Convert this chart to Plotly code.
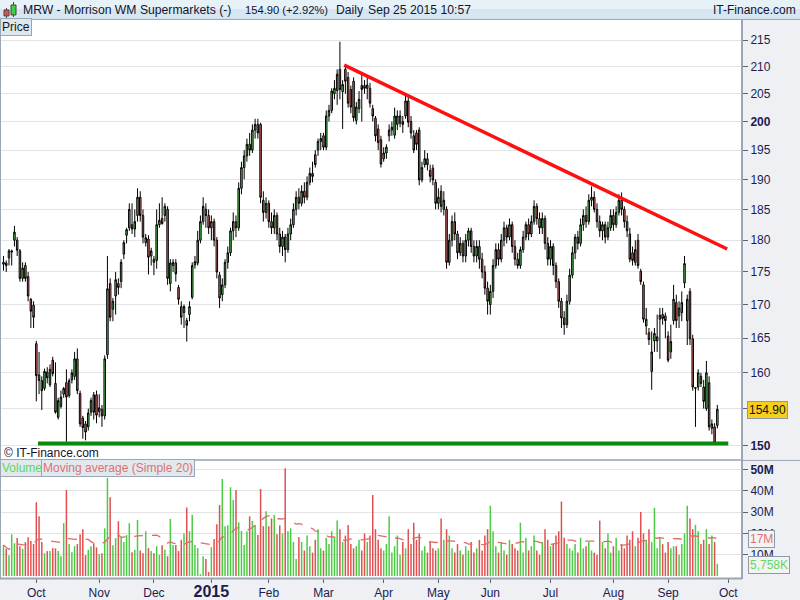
import plotly.graph_objects as go
import pandas as pd
import math

opens = [176.2,176.4,177.2,178.1,180.0,180.0,178.3,174.0,176.0,174.3,170.8,169.9,
164.2,159.7,158.9,157.8,160.1,158.3,161.8,158.5,153.8,155.3,157.0,158.6,156.8,159.0,159.5,162.0,157.1,153.7,152.9,152.5,154.5,156.9,156.9,154.6,154.9,154.0,162.6,173.2,169.3,171.3,173.2,173.5,177.8,180.8,182.0,182.5,181.8,184.0,187.0,184.0,179.6,180.2,177.5,177.0,176.8,182.5,183.5,184.0,185.0,173.2,176.0,176.4,172.6,169.7,168.8,167.6,168.5,171.1,176.1,176.4,
180,183,185,184,182,183,180,174.5,171.5,173,176.5,178,181.5,183,182,188.5,192,194,196,195,198.5,199.5,199.5,186.5,184.5,186,183,182,184,181,179,180.5,178.5,181,182.5,185,187,186,188,187,189.5,191,194.2,195,196.5,197.5,195.5,201,202,205,205.6,209.5,205.4,209.5,208,205.8,207.3,200.2,202.3,206.5,206.5,206,206,202.3,200.6,198.7,196.8,193.5,194.5,197.5,198.5,197.6,199.5,199.7,200,201,203.7,200,197.5,198,198.5,189.9,192.5,193.5,191.5,191.9,189.5,186,188,185,185,176.5,
180,183,181,178,179.5,177.5,180,181.5,179,177.5,179,177,175,172.5,170,172,176,178.5,177,180,182,180.5,182.5,179,177,176,178.5,180.5,182.5,181,183,185.5,183.5,182,183.5,179.5,177,179,176,173.5,170.5,168,167,170.5,174.5,178,180.5,179.5,182.5,184,183,186.5,187,185,183,181.5,182.5,180.5,182,184,182.5,184.5,186.5,185,183,
181,178,176.5,180,175.1,173,166.8,165.8,160.2,164.6,164.6,167.8,168.5,168.3,165.3,163,167.6,170.3,168.3,168.8,173.3,167.6,172,164.9,157.8,158,159.5,158,155,158.6,152.3,152.5,152.7]

highs = [177.5,176.8,178.6,178.5,182.3,180.5,178.6,176.5,176.5,175.0,171.0,170.5,
164.6,163.0,159.5,160.6,160.8,161.2,162.3,161.5,156.5,157.5,158.0,160.5,159.2,160.5,163.0,163.5,157.5,154.0,153.3,155.0,156.5,157.3,157.5,157.0,155.5,162.5,177.5,174.0,171.0,175.0,174.0,177.0,180.0,182.0,186.0,186.0,185.0,188.5,188.0,185.0,181.0,180.8,178.8,177.5,185.0,186.0,187.0,186.0,185.5,177.0,177.0,177.0,173.0,170.5,170.0,168.0,170.5,176.5,177.5,181.5,
184,187,186,185,184,183.5,180.5,175,174,177,179,182,184.5,184,189.5,193,195,197,198,199.5,200.5,200.5,199.8,188,187,186.5,184.5,185,184.5,182,181.5,181,182,183.5,186,188,188.5,189,189.5,190.5,192,193,195,197,198,198,202,203,206,207.5,209.5,214.7,207.5,210.5,209,206.5,208,203.5,205.5,208.5,207.5,208,207,203,201,199.5,197.5,195.5,196,199.5,200,202.5,202,202,201,205,204.5,201,198.5,198.5,199,193,195,194.5,192.5,192.5,190,188.5,189,188,185.5,
181,184,184.5,181.5,180.5,180,181,182,182,180,180,180,178,176,173.5,173,177,179.5,179.5,181,183,182.5,183.5,183,180,178,179,181.5,183,183.5,184,186.5,186,184.5,184.5,184,180.5,180,179.5,176.5,174,171,169,171.5,175.5,179,181,181.5,183.5,185,185.5,187.5,188.8,188,186,184,183,183,183,185,185,185.5,187.5,187.8,185.5,
184,182,179,180,181,175.5,173.5,169.5,166.5,166,166.5,168.5,169.5,169.5,168.8,166,167,173,171.5,170.5,172,177.5,171.5,172.5,165.5,158,160.5,160,159,161.7,159.5,153.5,153,155.5]

lows = [175.2,175.0,176.0,176.0,179.0,177.5,173.5,173.5,173.5,170.5,166.5,166.5,
156.0,157.0,154.8,157.5,158.5,158.0,159.5,154.3,153.5,155.0,156.5,150.5,156.5,158.5,159.0,157.0,152.5,150.9,150.7,152.0,154.0,153.5,153.0,153.8,152.5,153.5,162.0,167.5,167.5,168.5,171.5,172.5,177.0,179.5,181.5,181.0,180.5,183.0,183.0,179.5,179.0,174.6,176.0,174.5,175.5,182.0,182.5,183.0,173.0,172.0,175.0,173.5,170.0,167.0,166.5,164.5,167.5,170.8,175.5,176.0,
179.5,182.5,182,181,180,179,174,169.5,170.5,172.5,175.5,177.5,180,180.5,181.5,187.5,190,193,194,194.5,197,197,186,183,183.5,182,181,181,180,178,177.5,176.5,178,180,182,184,185,185.5,186,186.5,189,189.5,192,194,195,195,195,200,201.5,204,203,204,198.7,205,202.5,201.5,200,199.5,201.5,200,205,204,202.5,200,196.5,195,192,193,193.5,196.5,197.5,197,198.5,199,198,200.5,199,197,194.5,195,189,189.5,192,191.5,189.5,189,185,185,184.5,184,175.5,
176,179,180,177,177.5,176.5,176.5,179,178,176.5,176.5,175.5,174,171.5,168.5,168.5,171,175.5,176,176.5,179,179.5,180,178,176,175.5,175.5,178,180,180,180.5,182.5,182.5,181,181,178.5,176,176,174.5,172.5,169.5,166.5,165.5,166.5,170,174,177,178.5,179,181.5,182,182.5,185.5,184.5,182,180.5,180,179.5,180,181.5,181.5,182,184,184,182,
180.5,176.5,176,176,175.5,173,167.3,165.5,164,157.6,163,163,162,167,165,161.5,162,167,166.5,166.5,167.5,172.5,164,164,157.5,152.5,157.5,158,155,154.7,152,151.5,150.2,152.3]

closes = [176.5,176.0,178.3,178.3,181.3,178.4,174.0,175.6,174.0,171.3,169.0,168.1,
159.6,158.9,157.5,160.2,159.3,160.5,159.9,154.5,156.1,156.6,157.8,156.6,158.9,160.0,162.0,157.5,152.9,152.4,151.8,154.4,156.1,154.5,154.1,155.1,154.0,162.0,172.4,168.1,170.5,173.8,172.6,176.5,179.6,181.7,185.0,181.8,183.0,187.0,184.0,180.5,180.4,177.3,178.3,176.5,182.5,183.2,182.7,185.5,174.0,176.4,176.5,174.7,170.8,168.1,169.7,166.9,169.7,176.0,176.6,180.0,
183,185.5,184,182,183,180,175,171,173,176.5,178,181.5,183,182,188.5,192,194,196,195,198.5,199.5,198,187,184.5,186,183,182,184,181,179,180.5,178.5,181,182.5,185,187,186,188,187,189.5,191,190.5,192.5,196.5,197,195.5,201,202,205.5,206,208.6,205.8,206.7,207.3,203.3,202.6,200.7,202.6,204,205.8,206,206.6,203.3,201,197.5,196.3,192.6,194.5,195.5,198.5,199,201,201,201,199.5,203.7,199.9,198,195,196,189.9,192,193.5,192.5,190.5,189.9,186,187,185.5,186.5,176.5,
180,183,181,178,179.5,177.5,180,181.5,179,177.5,179,177,175,172.5,170.5,172,176,178.5,177,180,182,180.5,182.5,179,177,176,178.5,180.5,182.5,181,183,185.5,183.5,182,183.5,179.5,177,179,176,173.5,170.5,168,167,170.5,174.5,178,180.5,179.5,182.5,184,183,186.5,187,185,183,181.5,182.5,180.5,182,184,182.5,184.5,186.5,185,183,181.5,
177,176.8,178.5,176,173.5,167.8,167.8,164.8,163,165.7,165.2,168.4,167.9,167.6,161.8,164.5,170.8,167.6,169.5,170.3,176.3,170.8,164.9,158,157.9,160,158.5,156,160,152.5,152.9,150.4,154.9]

volumes_m = [14.6,12.8,9.8,19.6,15.4,17.8,14.0,12.8,15.9,18.2,16.5,15.0,34.6,28.0,16.0,10.7,11.7,11.8,13.1,13.0,11.8,9.3,24.8,40.3,15.0,11.2,14.0,15.0,19.6,22.0,9.8,12.3,14.0,15.4,13.5,10.3,10.7,22.4,46.0,37.0,14.5,17.8,25.7,17.8,16.0,19.2,24.8,11.2,12.3,26.3,12.0,10.7,21.0,13.1,11.7,10.7,14.0,10.0,14.5,12.3,9.3,26.8,14.6,14.6,11.8,17.0,20.0,32.2,21.0,28.7,14.6,13.1,0.9,9.3,8.0,1.9,13.5,17.4,24.3,33.3,45.5,23.4,23.8,41.6,35.7,40.3,25.2,21.2,14.6,20.9,28.0,25.9,24.0,19.3,40.8,23.4,30.4,23.4,27.0,28.7,19.6,23.8,20.0,50.5,21.0,22.4,16.0,8.0,18.2,
16,12,19,14,11,17,22,13,12,18,
15,21,18,26,22,16,19,24,15,13,
14,17,12,20,16,19,38,22,17,13,
12,15,28,11,14,19,10,16,13,22,
15,25,17,20,12,14,11,16,13,12,
13,27,17,22,19,13,11,15,12,10,
14,12,16,11,13,17,12,19,22,33,
21,14,11,16,12,10,17,15,13,12,
25,11,18,12,14,19,12,10,16,22,
17,14,15,19,21,35,18,15,13,12,
15,11,18,13,14,16,12,11,10,26,
16,13,20,11,14,18,12,15,13,19,
17,21,14,18,30,20,17,22,16,32,
13,18,15,11,16,13,14,14,10,15,
20,33,27,22,24,21,15,17,22,15,
19,16,5.758]

month_idx = [12, 35, 55, 76, 97, 117, 139, 159, 178, 200, 223, 243, 265]
month_labels = ['Oct', 'Nov', 'Dec', '2015', 'Feb', 'Mar', 'Apr', 'May', 'Jun', 'Jul', 'Aug', 'Sep', 'Oct']
price_ticks = [150, 155, 160, 165, 170, 175, 180, 185, 190, 195, 200, 205, 210, 215]
vol_ticks_m = [10, 20, 30, 40, 50]
resist_x = [124.6, 264.6]
resist_y = [210.3, 178.6]
support_x = [12.6, 265.0]
support_y = [150.27, 150.27]

n = min(len(opens), len(highs), len(lows), len(closes), len(volumes_m))
idx = list(range(n))
opens, highs, lows, closes = opens[:n], highs[:n], lows[:n], closes[:n]
vols = [v * 1e6 for v in volumes_m[:n]]
ma20 = pd.Series(vols).rolling(20, min_periods=1).mean()

W, H = 800, 600
XR = 742
def X(px): return px / W
def Y(py): return 1 - py / H

GREEN = '#5fdb5f'
RED = '#f07474'
VG = '#4ccc44'
VR = '#e05050'
AXC = '#1c1c50'
FONT = 'Liberation Sans, Arial, sans-serif'

fig = go.Figure()
fig.add_trace(go.Candlestick(
    x=idx, open=opens, high=highs, low=lows, close=closes,
    increasing=dict(line=dict(color='black', width=1), fillcolor=GREEN),
    decreasing=dict(line=dict(color='black', width=1), fillcolor=RED),
    xaxis='x', yaxis='y', showlegend=False, hoverinfo='skip'))
fig.add_trace(go.Scatter(x=resist_x, y=resist_y, mode='lines',
    line=dict(color='#ff1010', width=3.5), xaxis='x', yaxis='y', showlegend=False))
fig.add_trace(go.Scatter(x=support_x, y=support_y, mode='lines',
    line=dict(color='#0a8a0a', width=4), xaxis='x', yaxis='y', showlegend=False))

vcolors = [VG if c >= o else VR for o, c in zip(opens, closes)]
fig.add_trace(go.Bar(x=idx, y=vols, marker=dict(color=vcolors, line=dict(width=0)),
    width=0.55, xaxis='x2', yaxis='y2', showlegend=False))
fig.add_trace(go.Scatter(x=idx, y=ma20, mode='lines',
    line=dict(color='#e06a6a', width=1.3, dash='dash'), xaxis='x2', yaxis='y2', showlegend=False))

xr = [-3.5 / 2.735, (XR - 3.5) / 2.735]
ptop, pbot = 218.9, 148.15
fig.update_layout(
    width=W, height=H, margin=dict(l=0, r=0, t=0, b=0),
    paper_bgcolor='#eef0f3', plot_bgcolor='white',
    font=dict(family=FONT, size=12, color=AXC),
    showlegend=False, boxgap=0.22,
    xaxis=dict(domain=[0, XR / W], range=xr, anchor='y', showticklabels=False,
               showgrid=False, zeroline=False, rangeslider=dict(visible=False), fixedrange=True),
    yaxis=dict(domain=[Y(461), Y(20)], type='log', range=[math.log10(pbot), math.log10(ptop)],
               side='right', anchor='x', tickvals=price_ticks,
               ticktext=[('<b>%d</b>' % v if v in (150, 200) else str(v)) for v in price_ticks],
               ticks='outside', ticklen=5, tickcolor='#5a6470', gridcolor='#e4e4e4',
               tickfont=dict(size=12, color=AXC), showline=False, zeroline=False),
    xaxis2=dict(domain=[0, XR / W], range=xr, anchor='y2', tickvals=month_idx,
                ticktext=[('<b><span style="font-size:16px">2015</span></b>' if t == '2015' else t) for t in month_labels],
                ticks='outside', ticklen=4, tickcolor='#5a6470', showgrid=False, zeroline=False,
                tickfont=dict(size=12, color=AXC)),
    yaxis2=dict(domain=[Y(580), Y(462)], range=[-0.93e6, 54.2e6], side='right', anchor='x2',
                tickvals=[v * 1e6 for v in vol_ticks_m],
                ticktext=[('<b>%dM</b>' % v if v == 50 else '%dM' % v) for v in vol_ticks_m],
                ticks='outside', ticklen=5, tickcolor='#5a6470', gridcolor='#e4e4e4',
                tickfont=dict(size=12, color=AXC), zeroline=False),
)

shapes = []
shapes.append(dict(type='rect', xref='paper', yref='paper', x0=0, x1=1, y0=Y(19), y1=Y(0),
                   fillcolor='#d6e7f1', line=dict(width=0), layer='below'))
shapes.append(dict(type='rect', xref='paper', yref='paper', x0=0, x1=1, y0=Y(9), y1=Y(0),
                   fillcolor='#e6f1f8', line=dict(width=0), layer='below'))
shapes.append(dict(type='line', xref='paper', yref='paper', x0=0, x1=1, y0=Y(19.5), y1=Y(19.5),
                   line=dict(color='#9aa6b2', width=1)))
shapes.append(dict(type='line', xref='paper', yref='paper', x0=X(742), x1=X(742), y0=Y(20), y1=Y(581),
                   line=dict(color='#9aa6b2', width=2)))
shapes.append(dict(type='line', xref='paper', yref='paper', x0=X(0.5), x1=X(0.5), y0=Y(20), y1=Y(581),
                   line=dict(color='#9aa6b2', width=1)))
shapes.append(dict(type='line', xref='paper', yref='paper', x0=0, x1=X(742), y0=Y(461.5), y1=Y(461.5),
                   line=dict(color='#9aa6b2', width=1.5)))
shapes.append(dict(type='line', xref='paper', yref='paper', x0=0, x1=X(742), y0=Y(580.5), y1=Y(580.5),
                   line=dict(color='#9aa6b2', width=2)))
shapes.append(dict(type='line', xref='paper', yref='paper', x0=X(742), x1=1, y0=Y(462), y1=Y(462),
                   line=dict(color='#9aa6b2', width=1)))
shapes.append(dict(type='line', xref='paper', yref='paper', x0=X(6.5), x1=X(6.5), y0=Y(18), y1=Y(8),
                   line=dict(color='#444', width=1)))
shapes.append(dict(type='rect', xref='paper', yref='paper', x0=X(4), x1=X(9), y0=Y(16), y1=Y(10),
                   fillcolor='#e05050', line=dict(color='#444', width=1)))
shapes.append(dict(type='line', xref='paper', yref='paper', x0=X(13.5), x1=X(13.5), y0=Y(17), y1=Y(2),
                   line=dict(color='#444', width=1)))
shapes.append(dict(type='rect', xref='paper', yref='paper', x0=X(11), x1=X(16), y0=Y(15), y1=Y(5),
                   fillcolor='#40d040', line=dict(color='#444', width=1)))
fig.update_layout(shapes=shapes)

ann = []
def txt(px, py, s, size=12, color=AXC, xanchor='left', **kw):
    ann.append(dict(xref='paper', yref='paper', x=X(px), y=Y(py), text=s, showarrow=False,
                    xanchor=xanchor, yanchor='middle', font=dict(size=size, color=color, family=FONT), **kw))
HC = '#14142e'
txt(21, 10, 'MRW - Morrison WM Supermarkets (-)', size=12.2, color=HC)
txt(243, 10, '154.90 (+2.92%)', size=11.2, color=HC)
txt(334, 10, 'Daily', size=12.2, color=HC)
txt(366, 10, 'Sep 25 2015 10:57', size=12.2, color=HC)
txt(798, 10, 'IT-Finance.com', size=12, color=HC, xanchor='right')
txt(0, 27, 'Price', size=12, color=HC, bgcolor='#dce7ef', bordercolor='#9aa6b2', borderwidth=1, borderpad=1)
txt(2, 455, '© IT-Finance.com', size=12, color=HC)
txt(0, 470, 'Volume', size=12, color='#5fd35f', bgcolor='#e2e9ee', bordercolor='#9aa6b2', borderwidth=1, borderpad=1)
txt(41, 470, 'Moving average (Simple 20)', size=12, color='#e07070', bgcolor='#e2e9ee', bordercolor='#9aa6b2', borderwidth=1, borderpad=1)
txt(747, 411, '154.90', size=12, color='#111', bgcolor='#f6cf1c', bordercolor='#8c9aa8', borderwidth=1, borderpad=1)
txt(748, 541, '17M', size=12, color='#e07070', bgcolor='#f3f3f3', bordercolor='#8c9aa8', borderwidth=1, borderpad=1)
txt(748, 567, '5,758K', size=12, color='#60d860', bgcolor='#f3f3f3', bordercolor='#8c9aa8', borderwidth=1, borderpad=1)
fig.update_layout(annotations=ann)

fig.write_html('out.html', config={'displayModeBar': False, 'staticPlot': True},
               post_script="document.body.style.margin='0px';document.body.style.overflow='hidden';")
